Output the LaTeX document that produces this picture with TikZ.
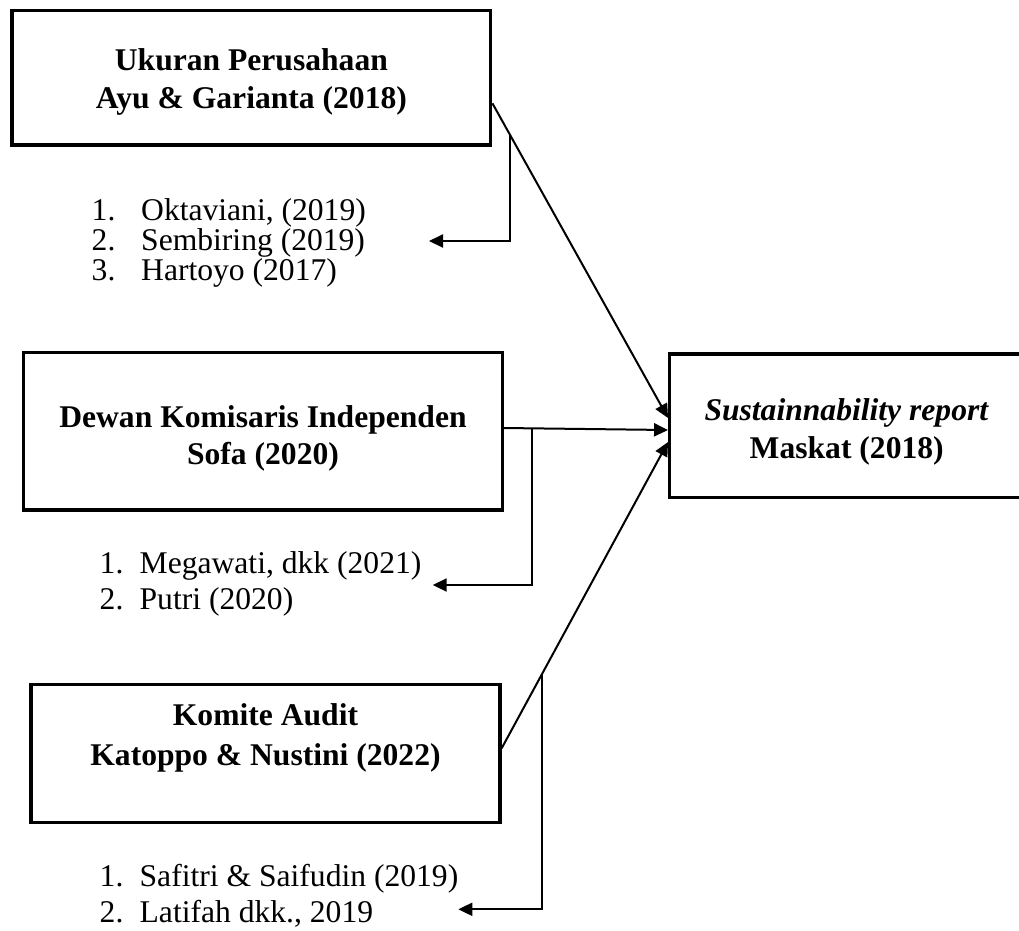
\documentclass[tikz,border=0pt]{standalone}
\usepackage{fontspec}
\setmainfont{Liberation Serif}
\usetikzlibrary{arrows.meta}
\begin{document}
\begin{tikzpicture}[x=1pt,y=-1pt,
  boxshape/.style={draw, line width=3.3pt, rectangle, inner sep=0pt},
  boxtext/.style={font=\fontsize{31.6}{38}\selectfont\bfseries, align=center, inner sep=0pt},
  listtext/.style={font=\fontsize{31.6}{36}\selectfont, align=left, anchor=west, inner sep=0pt},
  conn/.style={line width=2pt},
  arr/.style={conn, -{Triangle[length=14pt,width=13pt]}}
]
\useasboundingbox (0,0) rectangle (1019,930);
\clip (0,0) rectangle (1019,930);
\fill[white] (0,0) rectangle (1019,930);

% boxes
\node[boxshape, minimum width=478.7pt, minimum height=134.7pt] (b1) at (251.4,77.7) {};
\node[boxtext] (b1t) at (251.4,82) {Ukuran Perusahaan\\Ayu \& Garianta (2018)};

\node[boxshape, minimum width=478.5pt, minimum height=157.3pt] (b2) at (263,431.3) {};
\node[boxtext, font=\fontsize{31.6}{37}\selectfont\bfseries] (b2t) at (263,438.5) {Dewan Komisaris Independen\\Sofa (2020)};

\node[boxshape, minimum width=469pt, minimum height=138.4pt] (b3) at (265.5,753.5) {};
\node[boxtext, font=\fontsize{31.6}{40}\selectfont\bfseries] (b3t) at (265.5,738) {Komite Audit\\Katoppo \& Nustini (2022)};

\node[boxshape, minimum width=360.3pt, minimum height=143.7pt] (tgt) at (849.85,425.85) {};
\node[boxtext] (tgtt) at (846.7,432) {\textit{Sustainnability report}\\Maskat (2018)};

% lists
\node[listtext, font=\fontsize{31.6}{30}\selectfont] (l1) at (91.5,243)
  {\makebox[49.5pt][l]{1.}Oktaviani, (2019)\\\makebox[49.5pt][l]{2.}Sembiring (2019)\\\makebox[49.5pt][l]{3.}Hartoyo (2017)};
\node[listtext] (l2) at (99.5,584)
  {\makebox[40pt][l]{1.}Megawati, dkk (2021)\\\makebox[40pt][l]{2.}Putri (2020)};
\node[listtext] (l3) at (99.5,895.6)
  {\makebox[40pt][l]{1.}Safitri \& Saifudin (2019)\\\makebox[40pt][l]{2.}Latifah dkk., 2019};

% arrow end points
\coordinate (a1end) at (429,241);
\coordinate (a2end) at (432.7,585);
\coordinate (a3end) at (458.3,909.3);

% connectors
\draw[arr] ([yshift=-25.6pt]b1.east) -- ([yshift=7.85pt]tgt.west) coordinate[pos=0.1005] (br1);
\draw[arr] (br1) |- (a1end);

\draw[arr] ([yshift=3.3pt]b2.east) -- ([yshift=-4.15pt]tgt.west) coordinate[pos=0.169] (br2);
\draw[arr] (br2) |- (a2end);

\draw[arr] ([yshift=5.2pt]b3.east) -- ([yshift=-16.15pt]tgt.west) coordinate[pos=0.241] (br3);
\draw[arr] (br3) |- (a3end);
\end{tikzpicture}
\end{document}
